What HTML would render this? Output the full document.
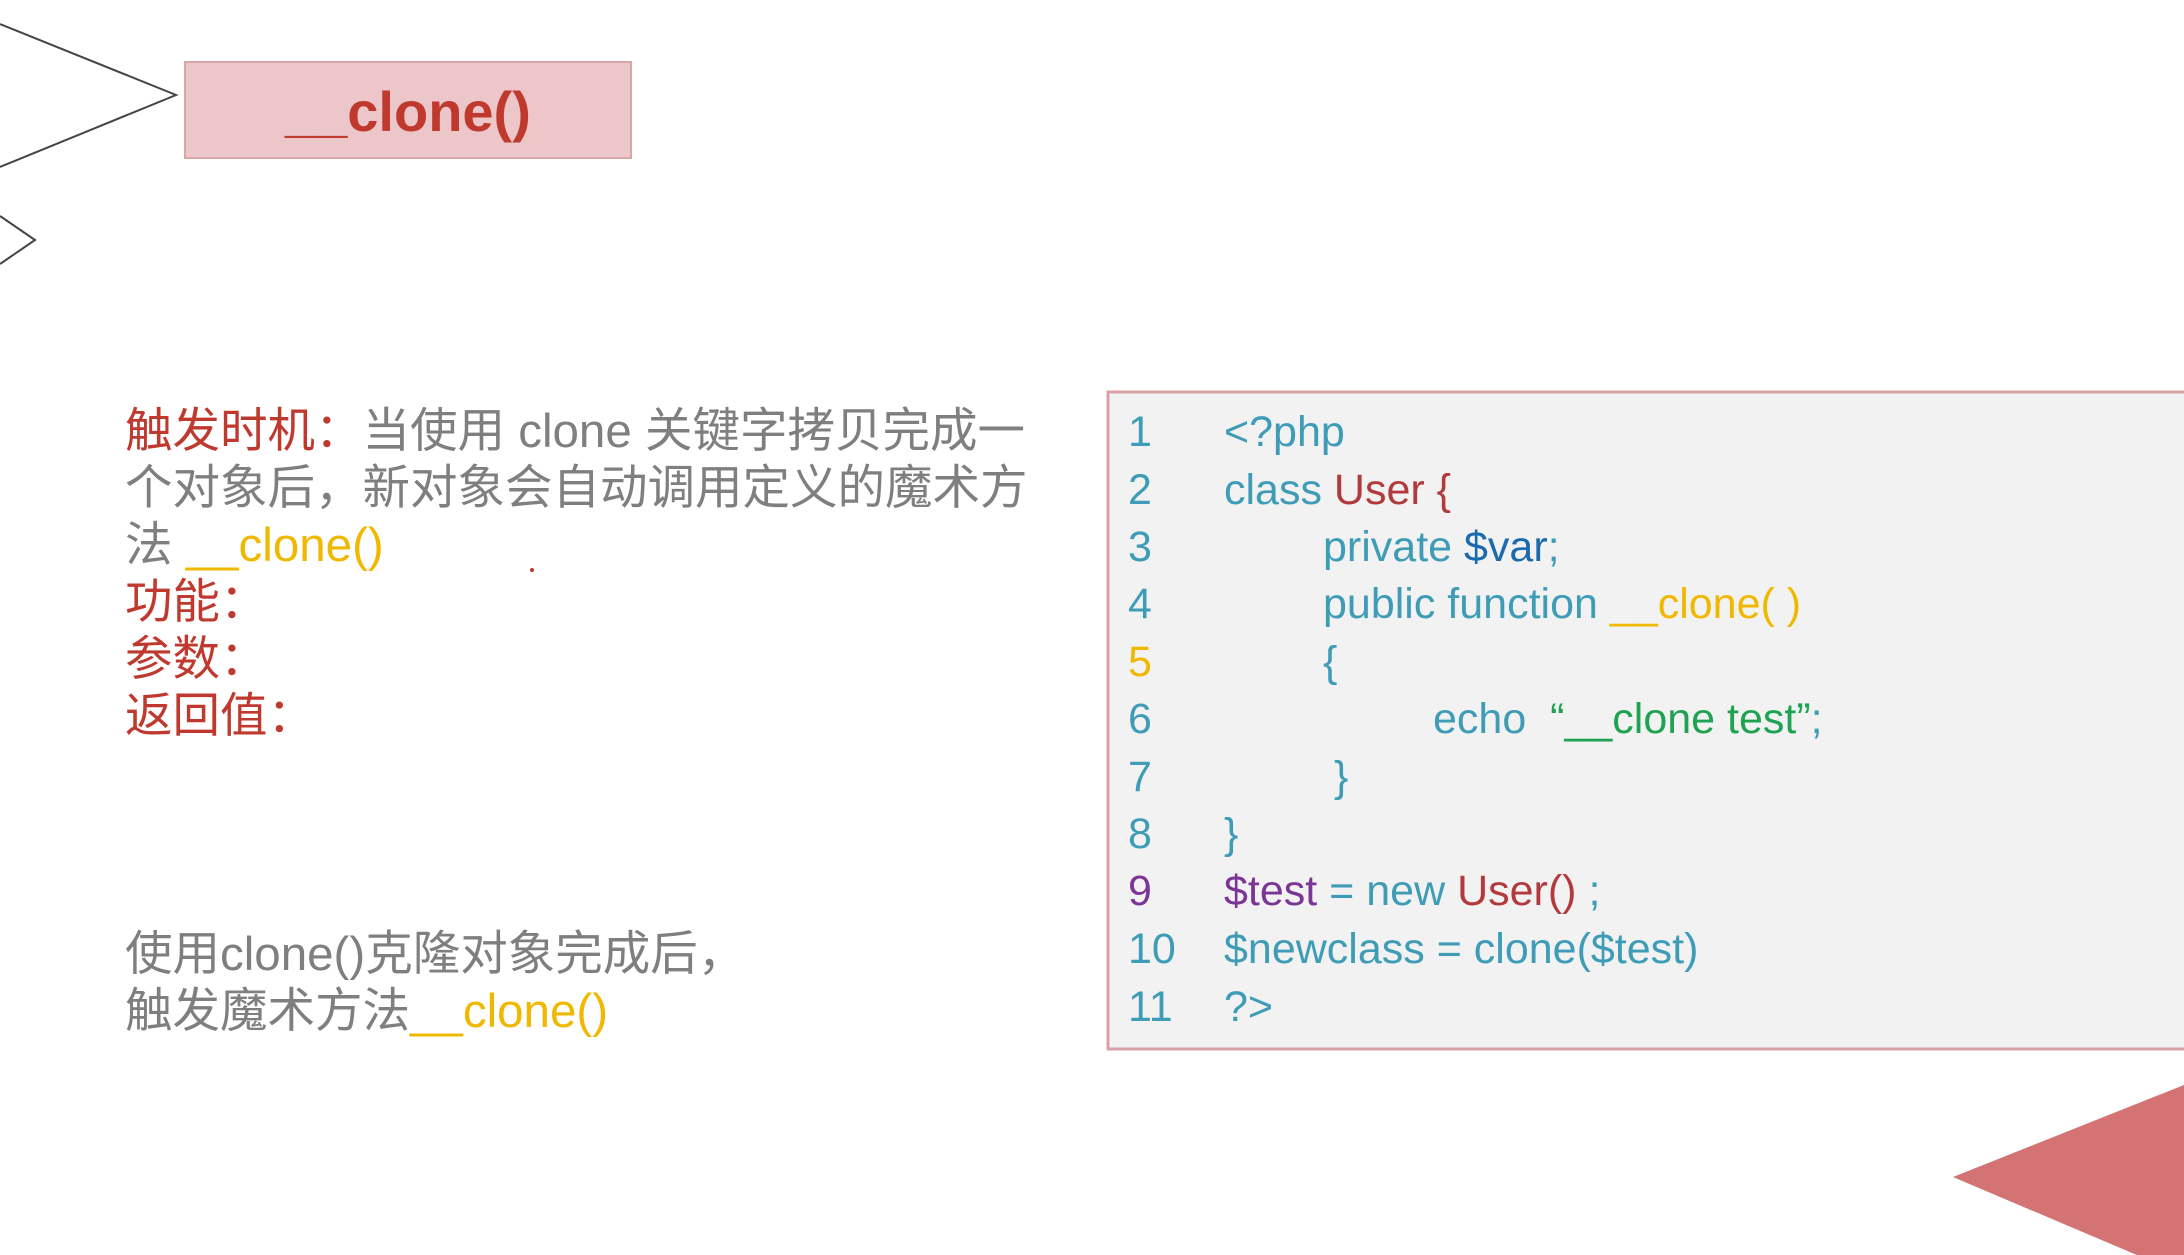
<!DOCTYPE html>
<html><head><meta charset="utf-8"><style>
body{margin:0;width:2184px;height:1255px;background:#fff;position:relative;overflow:hidden;font-family:"Liberation Sans","Noto Sans CJK SC",sans-serif;}
.t{position:absolute;white-space:nowrap;}
.r{color:#c0392f}.g{color:#7f7f7f}.y{color:#f0b800}
.c{color:#3e9cb6}.u{color:#b23a3c}.b{color:#1b6aae}.gr{color:#1fa352}.p{color:#7b3596}
.code .t{font-size:43px;line-height:58px;}
.left .t{font-size:47.5px;line-height:57px;}
</style></head><body>
<svg width="2184" height="1255" style="position:absolute;left:0;top:0">
<polyline points="0,24 176,95 0,167" fill="none" stroke="#444" stroke-width="2"/>
<polyline points="0,216 35,240 0,264" fill="none" stroke="#444" stroke-width="2"/>
<rect x="185" y="62" width="446" height="96" fill="#ecc6c8" stroke="#d9a5a8" stroke-width="2"/>
<rect x="1108" y="392" width="1090" height="657" fill="#f2f2f2" stroke="#d9a0a8" stroke-width="3"/>
<polygon points="1953,1177 2184,1085 2184,1275" fill="#d47373"/>
<circle cx="532" cy="570" r="2" fill="#c0392f"/>
</svg>
<div class="t r" style="left:285px;top:77px;font-size:56px;font-weight:bold;line-height:70px;">__clone()</div>
<div class="left">
<div class="t" style="left:125px;top:403px;"><span class="r">触发时机：</span><span class="g">当使用 clone 关键字拷贝完成一</span></div>
<div class="t g" style="left:125px;top:460px;">个对象后，新对象会自动调用定义的魔术方</div>
<div class="t" style="left:125px;top:517px;"><span class="g">法 </span><span class="y">__clone()</span></div>
<div class="t r" style="left:125px;top:574px;">功能：</div>
<div class="t r" style="left:125px;top:631px;">参数：</div>
<div class="t r" style="left:125px;top:688px;">返回值：</div>
<div class="t g" style="left:125px;top:926px;">使用clone()克隆对象完成后，</div>
<div class="t" style="left:125px;top:983px;"><span class="g">触发魔术方法</span><span class="y">__clone()</span></div>
</div>
<div class="code">
<div class="t c" style="left:1128px;top:403px;">1</div>
<div class="t c" style="left:1128px;top:461px;">2</div>
<div class="t c" style="left:1128px;top:518px;">3</div>
<div class="t c" style="left:1128px;top:575px;">4</div>
<div class="t y" style="left:1128px;top:633px;">5</div>
<div class="t c" style="left:1128px;top:690px;">6</div>
<div class="t c" style="left:1128px;top:748px;">7</div>
<div class="t c" style="left:1128px;top:805px;">8</div>
<div class="t p" style="left:1128px;top:862px;">9</div>
<div class="t c" style="left:1128px;top:920px;">10</div>
<div class="t c" style="left:1128px;top:978px;">11</div>
<div class="t c" style="left:1224px;top:403px;">&lt;?php</div>
<div class="t" style="left:1224px;top:461px;"><span class="c">class </span><span class="u">User {</span></div>
<div class="t" style="left:1323px;top:518px;"><span class="c">private </span><span class="b">$var</span><span class="c">;</span></div>
<div class="t" style="left:1323px;top:575px;"><span class="c">public function </span><span class="y">__clone( )</span></div>
<div class="t c" style="left:1323px;top:633px;">{</div>
<div class="t" style="left:1433px;top:690px;"><span class="c">echo &nbsp;</span><span class="gr">“__clone test”</span><span class="c">;</span></div>
<div class="t c" style="left:1334px;top:748px;">}</div>
<div class="t c" style="left:1224px;top:805px;">}</div>
<div class="t" style="left:1224px;top:862px;"><span class="p">$test</span><span class="c"> = new </span><span class="u">User()</span><span class="c"> ;</span></div>
<div class="t c" style="left:1224px;top:920px;">$newclass = clone($test)</div>
<div class="t c" style="left:1224px;top:978px;">?&gt;</div>
</div>
</body></html>
